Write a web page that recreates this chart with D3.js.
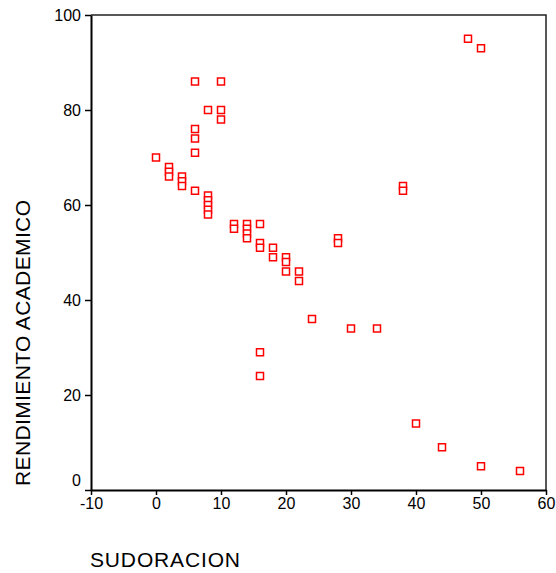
<!DOCTYPE html>
<html>
<head>
<meta charset="utf-8">
<script src="https://cdn.jsdelivr.net/npm/d3@7"></script>
<style>
  body { margin: 0; background: #fff; }
  svg { display: block; font-family: "Liberation Sans", Arial, sans-serif; }
</style>
</head>
<body>
<div id="chart"></div>
<script>
// SUDORACION vs RENDIMIENTO ACADEMICO, one entry per case
const sudoracion = [6, 10, 8, 10, 10, 6, 6, 6, 0, 2, 2, 2, 4, 4, 4, 6, 8, 8, 8, 8, 8,
  12, 12, 14, 14, 14, 14, 16, 16, 16, 18, 18, 20, 20, 20, 22, 22, 24, 16, 16,
  28, 28, 30, 34, 40, 44, 50, 56, 48, 50, 38, 38];
const rendimiento = [86, 86, 80, 80, 78, 76, 74, 71, 70, 68, 67, 66, 66, 65, 64, 63, 62, 61, 60, 59, 58,
  56, 55, 56, 55, 54, 53, 56, 52, 51, 51, 49, 49, 48, 46, 46, 44, 36, 29, 24,
  53, 52, 34, 34, 14, 9, 5, 4, 95, 93, 64, 63];
const xTicks = [-10, 0, 10, 20, 30, 40, 50, 60];
const yTicks = [0, 20, 40, 60, 80, 100];

const width = 556, height = 573;
const margin = { top: 15, right: 10, bottom: 83, left: 91 };

const svg = d3.select('#chart').append('svg')
  .attr('width', width)
  .attr('height', height);

const x = d3.scaleLinear().domain([-10, 60]).range([margin.left, width - margin.right]);
const y = d3.scaleLinear().domain([0, 100]).range([height - margin.bottom, margin.top]);

// frame (top + right)
svg.append('path')
  .attr('d', `M${x(-10)},${y(100)}H${x(60)}V${y(0)}`)
  .attr('fill', 'none')
  .attr('stroke', '#222')
  .attr('stroke-width', 1.5);

// axes (plain hyphen for negatives, like the original)
const fmt = d => String(d);
const xAxis = svg.append('g')
  .attr('transform', `translate(0,${y(0)})`)
  .call(d3.axisBottom(x).tickValues(xTicks).tickFormat(fmt).tickSize(5).tickPadding(3).tickSizeOuter(0));
const yAxis = svg.append('g')
  .attr('transform', `translate(${x(-10)},0)`)
  .call(d3.axisLeft(y).tickValues(yTicks).tickFormat(fmt).tickSize(6).tickPadding(4).tickSizeOuter(0));

for (const ax of [xAxis, yAxis]) {
  ax.select('.domain').attr('stroke', '#000').attr('stroke-width', 2);
  ax.selectAll('.tick line').attr('stroke', '#000').attr('stroke-width', 1.5);
  ax.selectAll('.tick text')
    .attr('fill', '#000')
    .style('font-size', '16px')
    .style('font-family', '"Liberation Sans", Arial, sans-serif');
}
// bottom y label sits above the axis corner
yAxis.selectAll('.tick').filter(d => d === 0).select('text').attr('dy', '-0.3em');

// points
svg.append('g')
  .selectAll('rect')
  .data(sudoracion.map((s, i) => [s, rendimiento[i]]))
  .join('rect')
  .attr('x', d => x(d[0]) - 3.5)
  .attr('y', d => y(d[1]) - 3.5)
  .attr('width', 7)
  .attr('height', 7)
  .attr('fill', '#fff')
  .attr('stroke', '#f00')
  .attr('stroke-width', 1.5);

// titles
svg.append('text')
  .attr('x', 90)
  .attr('y', 567)
  .style('font-size', '21px')
  .attr('textLength', 150)
  .attr('fill', '#000')
  .text('SUDORACION');

svg.append('text')
  .attr('transform', `translate(30,${(200 + 486) / 2}) rotate(-90)`)
  .attr('text-anchor', 'middle')
  .style('font-size', '21px')
  .attr('textLength', 286)
  .attr('fill', '#000')
  .text('RENDIMIENTO ACADEMICO');
</script>
</body>
</html>
